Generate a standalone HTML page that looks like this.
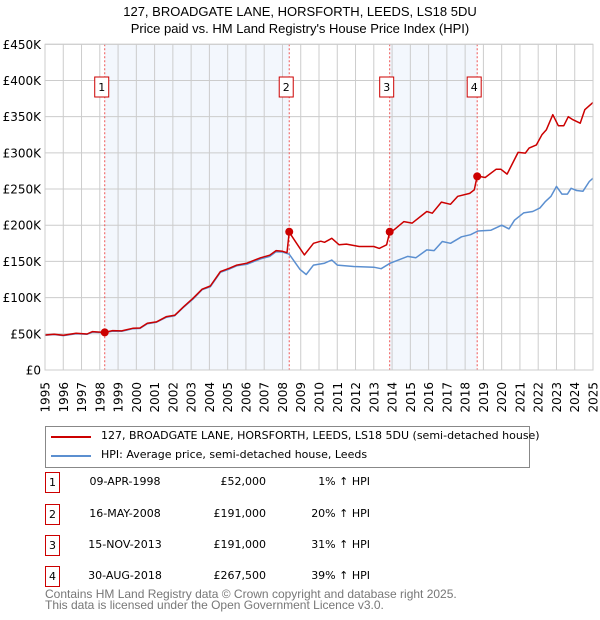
<!DOCTYPE html>
<html><head><meta charset="utf-8"><style>
body{margin:0;background:#fff;font-family:"Liberation Sans","DejaVu Sans",sans-serif;}
#wrap{position:relative;width:600px;height:620px;overflow:hidden;}
.t{position:absolute;font-size:12px;color:#000;white-space:nowrap;}
.dv{font-family:"DejaVu Sans",sans-serif;font-size:11px;}
</style></head><body>
<div id="wrap">
<svg id="chart" width="600" height="420" style="position:absolute;left:0;top:0" font-family="Liberation Sans, DejaVu Sans, sans-serif">
<text x="300" y="16" text-anchor="middle" font-size="13">127, BROADGATE LANE, HORSFORTH, LEEDS, LS18 5DU</text>
<text x="300" y="33" text-anchor="middle" font-size="13">Price paid vs. HM Land Registry's House Price Index (HPI)</text>
<g id="g"></g>
</svg>
<div style="position:absolute;left:45px;top:426px;width:485px;height:42px;border:1px solid #888;box-sizing:border-box;">
<div style="position:absolute;left:5px;top:9px;width:40px;height:2px;background:#cc0000"></div>
<div class="t dv" style="left:55px;top:2px;">127, BROADGATE LANE, HORSFORTH, LEEDS, LS18 5DU (semi-detached house)</div>
<div style="position:absolute;left:5px;top:28px;width:40px;height:2px;background:#5b8fd0"></div>
<div class="t dv" style="left:55px;top:21px;">HPI: Average price, semi-detached house, Leeds</div>
</div>
<div id="table"></div>
<div class="t" style="left:45px;top:589px;color:#777;line-height:11px;">Contains HM Land Registry data © Crown copyright and database right 2025.<br>This data is licensed under the Open Government Licence v3.0.</div>
</div>
<script>
const yTicks=[0,50,100,150,200,250,300,350,400,450];
const yLabels=["£0","£50K","£100K","£150K","£200K","£250K","£300K","£350K","£400K","£450K"];
const xYears=[1995,1996,1997,1998,1999,2000,2001,2002,2003,2004,2005,2006,2007,2008,2009,2010,2011,2012,2013,2014,2015,2016,2017,2018,2019,2020,2021,2022,2023,2024,2025];
const saleDates=[1998.27,2008.37,2013.87,2018.66];
const saleValues=[52,191,191,267.5];
const saleLabels=["1","2","3","4"];
const saleDateText=["09-APR-1998","16-MAY-2008","15-NOV-2013","30-AUG-2018"];
const salePriceText=["£52,000","£191,000","£191,000","£267,500"];
const salePctText=["1% ↑ HPI","20% ↑ HPI","31% ↑ HPI","39% ↑ HPI"];
const hpiDates=[1995,1995.5,1996,1996.7,1997.3,1997.6,1998.2,1998.7,1999.2,1999.8,2000.2,2000.6,2001.1,2001.65,2002.1,2002.6,2003.1,2003.6,2004.05,2004.6,2005.1,2005.5,2006.05,2006.8,2007.3,2007.65,2008,2008.37,2008.96,2009.3,2009.7,2010.3,2010.7,2011,2011.9,2013,2013.4,2013.9,2014.85,2015.3,2015.9,2016.3,2016.75,2017.2,2017.8,2018.3,2018.7,2019.4,2020,2020.4,2020.7,2021.2,2021.7,2022.1,2022.4,2022.7,2023,2023.3,2023.6,2023.8,2024.1,2024.45,2024.8,2025];
const hpiValues=[48,49,47.5,50,49.3,52.5,51.5,53.8,53.5,57,57.5,64,66,73,75,87,98,111,115,135,139.5,144,146,153.5,157,163.5,163,160,139,132,145,147.5,152,145,143,142,140,147.5,157,155,166,165,177.5,175,184,187,192,193,200,195,207,217,219,224,233,240,253.6,243,243,251,248,247,260.5,265];
const priceDates=[1995,1995.5,1996,1996.7,1997.3,1997.6,1998.2,1998.27,1998.7,1999.2,1999.8,2000.2,2000.6,2001.1,2001.65,2002.1,2002.6,2003.1,2003.6,2004.05,2004.6,2005.1,2005.5,2006.05,2006.8,2007.3,2007.65,2008,2008.25,2008.37,2008.96,2009.2,2009.7,2010.1,2010.3,2010.7,2011.1,2011.5,2012.2,2013,2013.3,2013.7,2013.87,2014.1,2014.65,2015.1,2015.9,2016.2,2016.7,2017.2,2017.6,2018.25,2018.5,2018.66,2019.1,2019.7,2019.95,2020.3,2020.9,2021.3,2021.5,2021.9,2022.2,2022.45,2022.8,2023.1,2023.4,2023.65,2023.9,2024.3,2024.55,2025];
const priceValues=[48.4,49.5,48,50.7,49.8,53,52,52,54.4,54,57.6,58,64.5,66.4,73.8,75.6,87.6,99,111.6,116,136,140.6,145,147.5,155,158.6,165,164,162,190.4,168,159,175,178,176.5,182,173,174,170.6,170.6,168,173,190.4,193.6,205,203,219,216.7,232,229,240,244,249,268,266,277.5,277.5,270.6,300.6,299.7,306.6,311,325,332,352.7,337.5,337.5,350,345.8,341,359.6,369.7];

const NS="http://www.w3.org/2000/svg";
const L=45,R=593,T=44.3,B=370,x0=1995,x1=2025,yMax=450;
const X=v=>L+(v-x0)/(x1-x0)*(R-L);
const Y=v=>B-v/yMax*(B-T);
const g=document.getElementById('g');
function mk(tag,attrs,parent){const e=document.createElementNS(NS,tag);for(const k in attrs)e.setAttribute(k,attrs[k]);(parent||g).appendChild(e);return e;}
for(let i=0;i<saleDates.length;i+=2){
 const r=mk('rect',{x:X(saleDates[i]),y:T,width:X(saleDates[i+1])-X(saleDates[i]),height:B-T,fill:'#eef3fc',opacity:0.7});
 
 
}
xYears.forEach(yr=>{const l=mk('line',{x1:X(yr),x2:X(yr),y1:T,y2:B,stroke:'#cccccc','stroke-width':1});
 
 
 const t=mk('text',{x:0,y:0,'font-size':12,'font-family':'DejaVu Sans, sans-serif','text-anchor':'end',transform:`translate(${X(yr)+4.5},382) rotate(-90)`});
 t.textContent=yr;
 
 
});
yTicks.forEach((v,i)=>{const l=mk('line',{x1:L,x2:R,y1:Y(v),y2:Y(v),stroke:'#cccccc','stroke-width':1});
 
 
 const t=mk('text',{x:41,y:Y(v)+4.5,'font-size':12,'font-family':'DejaVu Sans, sans-serif','text-anchor':'end'});
 t.textContent=yLabels[i];
 
 
});
saleDates.forEach((d,i)=>{const l=mk('line',{x1:X(d),x2:X(d),y1:T,y2:B,stroke:'#ee5555','stroke-width':1,'stroke-dasharray':'2,2'});
 
 
});
function path(ds,vs,col,w,name){const p=mk('path',{d:ds.map((d,i)=>(i?'L':'M')+X(d).toFixed(1)+','+Y(vs[i]).toFixed(1)).join(''),fill:'none',stroke:col,'stroke-width':w,'stroke-linejoin':'round'});
 
 }
path(hpiDates,hpiValues,'#5b8fd0',1.5,'hpi-line');
path(priceDates,priceValues,'#cc0000',1.5,'price-paid-line');
saleDates.forEach((d,i)=>{const c=mk('circle',{cx:X(d),cy:Y(saleValues[i]),r:4,fill:'#cc0000'});
 
 
 const b=mk('rect',{x:X(d)-10,y:77,width:14,height:20,fill:'#fff',stroke:'#cc0000','stroke-width':1});
 
 
 const t=mk('text',{x:X(d)-3,y:91,'font-size':11,'font-family':'DejaVu Sans, sans-serif','text-anchor':'middle'});
 t.textContent=saleLabels[i];
 
 
});
mk('rect',{x:L,y:T,width:R-L,height:B-T,fill:'none',stroke:'#cccccc','stroke-width':1});
const tb=document.getElementById('table');
const rowY=[482,514,545,576];
saleLabels.forEach((s,i)=>{
 const row=document.createElement('div');
 
 
 row.style.cssText=`position:absolute;left:0;top:${rowY[i]-10}px;width:600px;height:20px;font-size:11px;font-family:"DejaVu Sans",sans-serif;white-space:nowrap;`;
 row.innerHTML=`<div style="position:absolute;left:45px;top:0;width:13px;height:19px;border:1px solid #cc0000;text-align:center;line-height:19px">${s}</div>
 <div style="position:absolute;left:70px;width:110px;text-align:center;top:3px">${saleDateText[i]}</div>
 <div style="position:absolute;left:166px;width:100px;text-align:right;top:3px">${salePriceText[i]}</div>
 <div style="position:absolute;left:270px;width:100px;text-align:right;top:3px">${salePctText[i]}</div>`;
 tb.appendChild(row);
});
</script>
</body></html>
